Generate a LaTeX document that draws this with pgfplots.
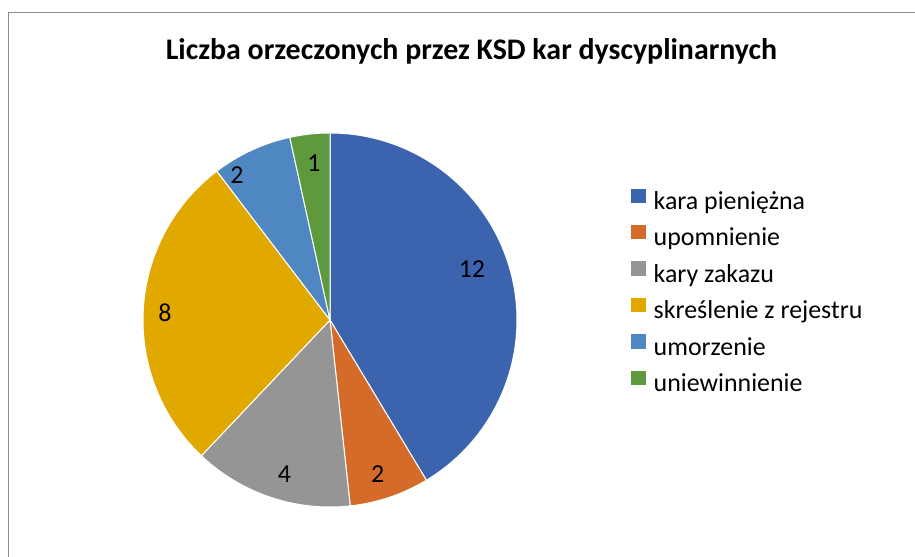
\documentclass[border=0pt]{standalone}
\usepackage{pgfplots}
\pgfplotsset{compat=1.18}
\usepackage{pgfplotstable}
\usepackage{fontspec}
\setmainfont{Carlito}

\definecolor{pie0}{HTML}{3C64AE}
\definecolor{pie1}{HTML}{D56B29}
\definecolor{pie2}{HTML}{959595}
\definecolor{pie3}{HTML}{E1A900}
\definecolor{pie4}{HTML}{4E87C1}
\definecolor{pie5}{HTML}{5E9A3D}
\definecolor{frame}{HTML}{8C8C8C}

% value = slice value; dang, lr = data label placement (angle shift, radius)
\pgfplotstableread[col sep=comma]{
label,value,dang,lr
kara pieniężna,12,4.3,0.807
upomnienie,2,-1.4,0.862
kary zakazu,4,2.1,0.859
skreślenie z rejestru,8,0.7,0.883
umorzenie,2,7.9,0.92
uniewinnienie,1,-0.4,0.844
}\piedata

% cumulative angles (start at 12 o'clock, clockwise)
\def\total{0}
\pgfplotsforeachungrouped \i in {0,...,5}{%
  \pgfplotstablegetelem{\i}{value}\of\piedata
  \pgfmathsetmacro\total{\total+\pgfplotsretval}%
}
\def\cum{0}
\pgfplotsforeachungrouped \i in {0,...,5}{%
  \pgfplotstablegetelem{\i}{value}\of\piedata
  \let\val\pgfplotsretval
  \pgfplotstablegetelem{\i}{dang}\of\piedata
  \let\dang\pgfplotsretval
  \pgfplotstablegetelem{\i}{lr}\of\piedata
  \expandafter\xdef\csname pieR\i\endcsname{\pgfplotsretval}%
  \pgfmathsetmacro\angA{90-360*\cum/\total}%
  \pgfmathsetmacro\cum{\cum+\val}%
  \pgfmathsetmacro\angB{90-360*\cum/\total}%
  \pgfmathsetmacro\angM{(\angA+\angB)/2+\dang}%
  \pgfmathtruncatemacro\valint{\val}%
  \expandafter\xdef\csname pieA\i\endcsname{\angA}%
  \expandafter\xdef\csname pieB\i\endcsname{\angB}%
  \expandafter\xdef\csname pieM\i\endcsname{\angM}%
  \expandafter\xdef\csname pieV\i\endcsname{\valint}%
}

\pgfplotsset{
  pielabel/.style={forget plot, only marks, mark=none, data cs=polar,
    nodes near coords, point meta=explicit symbolic,
    nodes near coords style={anchor=center, inner sep=0pt, text=black, font=\fontsize{26}{30}\selectfont}},
}

\begin{document}
\begin{tikzpicture}[x=1bp,y=1bp]
\path[use as bounding box] (0,0) rectangle (915,557);
\draw[frame, line width=1.2bp] (8.5,0) -- (8.5,544.5) -- (915,544.5);
\node[anchor=base, inner sep=0pt, font=\fontsize{30}{34}\selectfont\bfseries] at (471.5,497) {Liczba orzeczonych przez KSD kar dyscyplinarnych};
\begin{axis}[
  at={(330bp,237bp)}, anchor=center,
  scale only axis, width=374bp, height=374bp,
  xmin=-1, xmax=1, ymin=-1, ymax=1,
  hide axis, clip=false,
  legend entries={kara pieniężna,upomnienie,kary zakazu,skreślenie z rejestru,umorzenie,uniewinnienie},
  legend style={at={(1.3048,0.852)}, anchor=north west, draw=none, fill=none,
    font=\fontsize{26}{30}\selectfont, row sep=8.4bp, column sep=8bp, inner sep=0pt,
    nodes={text height=20bp, text depth=7bp, inner sep=0pt},
    cells={anchor=west}},
  legend image code/.code={\fill[#1, draw=none] (0bp,0bp) rectangle (14.5bp,14.5bp);},
]
\pgfplotsinvokeforeach{0,...,5}{%
  \edef\doplot{\noexpand\addplot[fill=pie#1, draw=white, line width=1bp, data cs=polar,
    domain=\csname pieB#1\endcsname:\csname pieA#1\endcsname, samples=90]
    ({x},{1}) -- (0,0) -- cycle;}%
  \doplot
}
\pgfplotsinvokeforeach{0,...,5}{%
  \edef\doplot{\noexpand\addplot[pielabel] coordinates
    {(\csname pieM#1\endcsname,\csname pieR#1\endcsname) [\csname pieV#1\endcsname]};}%
  \doplot
}
\end{axis}
\end{tikzpicture}
\end{document}
